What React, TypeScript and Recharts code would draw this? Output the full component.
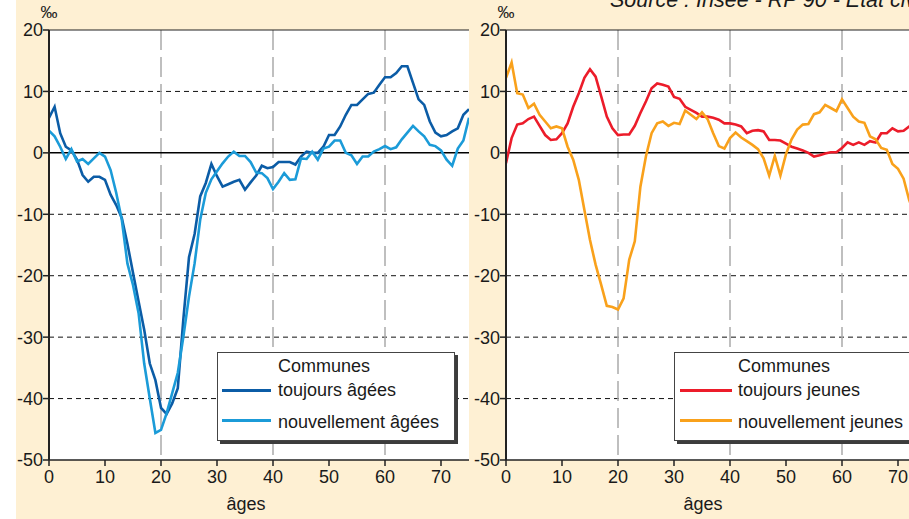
import React from 'react';
import { LineChart, Line, XAxis, YAxis, CartesianGrid, ReferenceLine, Legend } from 'recharts';

// ---------- data ----------
const ages = [
  0, 1, 2, 3, 4, 5, 6, 7, 8, 9, 10, 11, 12, 13, 14, 15, 16, 17, 18, 19,
  20, 21, 22, 23, 24, 25, 26, 27, 28, 29, 30, 31, 32, 33, 34, 35, 36, 37, 38, 39,
  40, 41, 42, 43, 44, 45, 46, 47, 48, 49, 50, 51, 52, 53, 54, 55, 56, 57, 58, 59,
  60, 61, 62, 63, 64, 65, 66, 67, 68, 69, 70, 71, 72, 73, 74, 75,
];

const toujoursAgees = [
  5.7, 7.5, 3.2, 1.0, 0.4, -1.1, -3.6, -4.7, -3.9, -3.9,
  -4.4, -6.8, -8.5, -10.6, -14.8, -19.5, -24.2, -28.8, -34.3, -37.0,
  -41.5, -42.5, -40.8, -38.3, -27.0, -17.0, -13.2, -7.1, -4.9, -1.8,
  -3.8, -5.5, -5.1, -4.7, -4.4, -6.0, -4.8, -3.7, -2.1, -2.5,
  -2.3, -1.5, -1.5, -1.5, -1.9, -0.6, 0.2, 0.0, 0.0, 1.0,
  2.9, 2.9, 4.3, 6.2, 7.8, 7.8, 8.7, 9.6, 9.8, 11.1,
  12.3, 12.3, 13.0, 14.1, 14.1, 11.4, 8.7, 7.8, 5.1, 3.3,
  2.7, 2.9, 3.5, 4.0, 6.2, 7.1,
];

const nouvellementAgees = [
  3.6, 2.7, 1.0, -1.0, 0.6, -1.4, -1.0, -1.8, -0.9, 0.0,
  -0.6, -2.8, -6.5, -10.9, -18.0, -21.5, -26.1, -34.3, -40.0, -45.6,
  -45.1, -42.4, -39.1, -35.8, -29.9, -23.4, -18.0, -10.9, -6.5, -4.3,
  -3.0, -1.7, -0.6, 0.2, -0.5, -0.5, -1.5, -3.2, -3.3, -4.1,
  -5.9, -4.7, -3.3, -4.4, -4.3, -0.9, -1.0, 0.2, -1.1, 0.7,
  1.0, 2.0, 2.0, 0.0, -0.4, -1.8, -0.6, -0.6, 0.2, 0.6,
  1.1, 0.6, 0.9, 2.2, 3.3, 4.4, 3.5, 2.7, 1.3, 1.1,
  0.4, -1.1, -2.1, 0.7, 2.0, 5.7,
];

const toujoursJeunes = [
  -1.7, 2.4, 4.6, 4.8, 5.5, 5.9, 4.4, 2.9, 2.1, 2.2,
  3.2, 4.8, 7.5, 9.7, 12.2, 13.6, 12.4, 9.2, 5.9, 4.0,
  2.9, 3.0, 3.0, 4.4, 6.5, 8.4, 10.5, 11.3, 11.1, 10.8,
  9.1, 8.8, 7.5, 7.0, 6.5, 5.9, 5.9, 5.7, 5.4, 4.8,
  4.8, 4.6, 4.3, 3.2, 3.6, 3.7, 3.5, 2.1, 2.1, 2.0,
  1.5, 1.0, 0.7, 0.4, 0.0, -0.6, -0.4, -0.1, 0.1, 0.1,
  0.8, 1.7, 1.3, 1.7, 1.3, 1.9, 1.7, 3.2, 3.2, 4.0,
  3.5, 3.6, 4.3, 4.5, 4.6, 4.8,
];

const nouvellementJeunes = [
  12.2, 14.7, 9.7, 9.5, 7.3, 8.0, 6.2, 5.1, 4.0, 4.3,
  4.0, 1.0, -1.1, -4.4, -9.3, -14.2, -18.2, -21.5, -24.9, -25.1,
  -25.5, -23.7, -17.4, -14.4, -5.5, -0.5, 3.2, 4.8, 5.1, 4.4,
  4.9, 4.7, 6.9, 6.2, 5.5, 6.6, 5.5, 3.2, 1.1, 0.7,
  2.4, 3.3, 2.5, 1.9, 1.3, 0.6, -0.9, -3.7, -0.5, -3.7,
  -0.2, 2.2, 3.8, 4.6, 4.7, 6.3, 6.6, 7.8, 7.3, 6.8,
  8.7, 7.3, 5.9, 5.1, 4.9, 2.7, 2.2, 0.8, 0.5, -1.8,
  -2.6, -4.2, -7.7, -10.0, -12.0, -14.0,
];

const xTicks = [0, 10, 20, 30, 40, 50, 60, 70];
const yTicks = [20, 10, 0, -10, -20, -30, -40, -50];
const hGridValues = [10, -10, -20, -30, -40];
const vGridValues = [20, 40, 60];

const legendTitle = 'Communes';
const xLabel = 'âges';
const unitLabel = '‰';
const sourceText = 'Source : Insee - RP 90 - Etat civil';

const leftSeries = [
  { key: 'toujours', name: 'toujours âgées', color: '#0B5CA6' },
  { key: 'nouvellement', name: 'nouvellement âgées', color: '#1B9BD8' },
];
const rightSeries = [
  { key: 'toujours', name: 'toujours jeunes', color: '#EC1C2A' },
  { key: 'nouvellement', name: 'nouvellement jeunes', color: '#F9A11B' },
];

const leftData = ages.map((a, i) => ({ age: a, toujours: toujoursAgees[i], nouvellement: nouvellementAgees[i] }));
const rightData = ages.map((a, i) => ({ age: a, toujours: toujoursJeunes[i], nouvellement: nouvellementJeunes[i] }));

// ---------- styles ----------
const BEIGE = '#FEF0D3';
const FONT = '"Liberation Sans", Arial, Helvetica, sans-serif';
const INK = '#1a1a1a';

type Series = { key: string; name: string; color: string };
type LegendGeom = { left: number; top: number; width: number; lineLeft: number; lineWidth: number; textLeft: number };

function LegendBox({ payload, series, g }: { payload?: any[]; series: Series[]; g: LegendGeom }) {
  const items = (payload || []).slice().sort(
    (a, b) => series.findIndex((s) => s.name === a.value) - series.findIndex((s) => s.name === b.value)
  );
  const rows = [{ text: 27, line: 37 }, { text: 59, line: 67 }];
  return (
    <div
      style={{
        position: 'relative',
        width: g.width,
        height: 89,
        boxSizing: 'border-box',
        background: '#fff',
        border: '1px solid #444',
        boxShadow: '3px 3px 0 #3c3c3c',
        fontFamily: FONT,
        fontSize: 18,
        color: INK,
        lineHeight: '20px',
        whiteSpace: 'nowrap',
      }}
    >
      <div style={{ position: 'absolute', left: g.textLeft, top: 3 }}>{legendTitle}</div>
      {items.map((p, i) => (
        <React.Fragment key={p.value}>
          <div
            style={{
              position: 'absolute',
              left: g.lineLeft,
              top: rows[i].line - 1.5,
              width: g.lineWidth,
              height: 3,
              background: p.color,
            }}
          />
          <div style={{ position: 'absolute', left: g.textLeft, top: rows[i].text }}>{p.value}</div>
        </React.Fragment>
      ))}
    </div>
  );
}

function Panel({
  left,
  yAxisWidth,
  width,
  data,
  series,
  legend,
}: {
  left: number;
  yAxisWidth: number;
  width: number;
  data: any[];
  series: Series[];
  legend: LegendGeom;
}) {
  return (
    <div style={{ position: 'absolute', left, top: 0 }}>
      <LineChart
        width={width}
        height={519}
        data={data}
        margin={{ top: 30, right: width - yAxisWidth - 420, bottom: 7, left: 0 }}
        style={{ fontFamily: FONT }}
      >
        <CartesianGrid
          vertical={false}
          horizontalValues={hGridValues}
          stroke="#111"
          strokeWidth={1}
          strokeDasharray="5 4"
          fill="#fff"
          fillOpacity={1}
        />
        <CartesianGrid
          horizontal={false}
          verticalValues={vGridValues}
          stroke="#ababab"
          strokeWidth={1.5}
          strokeDasharray="20 7"
        />
        <XAxis
          dataKey="age"
          type="number"
          domain={[0, 75]}
          ticks={xTicks}
          interval={0}
          allowDataOverflow
          height={52}
          tickSize={6}
          tickMargin={4}
          axisLine={{ stroke: '#222', strokeWidth: 1.5 }}
          tickLine={{ stroke: '#222', strokeWidth: 1.5 }}
          tick={{ fontSize: 18, fill: INK }}
          label={{ value: xLabel, position: 'insideBottom', offset: 2, dx: -13, style: { fontSize: 18, fill: INK } }}
        />
        <YAxis
          type="number"
          domain={[-50, 20]}
          ticks={yTicks}
          interval={0}
          allowDataOverflow
          width={yAxisWidth}
          tickSize={6}
          tickMargin={0}
          axisLine={{ stroke: '#222', strokeWidth: 2 }}
          tickLine={{ stroke: '#222', strokeWidth: 1.5 }}
          tick={{ fontSize: 18, fill: INK }}
        />
        <ReferenceLine y={20} stroke="#222" strokeWidth={1} />
        <ReferenceLine y={0} stroke="#000" strokeWidth={1.5} />
        {series.map((s) => (
          <Line
            key={s.key}
            type="linear"
            dataKey={s.key}
            name={s.name}
            stroke={s.color}
            strokeWidth={2.6}
            dot={false}
            activeDot={false}
            isAnimationActive={false}
          />
        ))}
        <Legend
          layout="horizontal"
          verticalAlign="middle"
          align="center"
          wrapperStyle={{ left: legend.left, top: legend.top, width: legend.width, height: 89 }}
          content={(props: any) => <LegendBox payload={props.payload} series={series} g={legend} />}
        />
      </LineChart>
    </div>
  );
}

export default function App() {
  return (
    <div
      style={{
        position: 'absolute',
        left: 0,
        top: 0,
        width: 909,
        height: 519,
        overflow: 'hidden',
        background: '#fff',
        fontFamily: FONT,
      }}
    >
      <div style={{ position: 'absolute', left: 16, top: 0, right: 0, bottom: 0, background: BEIGE }} />
      <Panel
        left={0}
        yAxisWidth={49}
        width={480}
        data={leftData}
        series={leftSeries}
        legend={{ left: 217, top: 352, width: 238, lineLeft: 4, lineWidth: 49, textLeft: 60 }}
      />
      <Panel
        left={469}
        yAxisWidth={37}
        width={460}
        data={rightData}
        series={rightSeries}
        legend={{ left: 205, top: 352, width: 260, lineLeft: 5, lineWidth: 52, textLeft: 63 }}
      />
      <svg
        width={909}
        height={519}
        style={{ position: 'absolute', left: 0, top: 0, pointerEvents: 'none', fontFamily: FONT }}
      >
        <text x={49} y={18} textAnchor="middle" fontSize={17} fill={INK}>{unitLabel}</text>
        <text x={506} y={18} textAnchor="middle" fontSize={17} fill={INK}>{unitLabel}</text>
        <text x={610} y={7} fontSize={21.5} fontStyle="italic" fill={INK}>{sourceText}</text>
      </svg>
    </div>
  );
}
